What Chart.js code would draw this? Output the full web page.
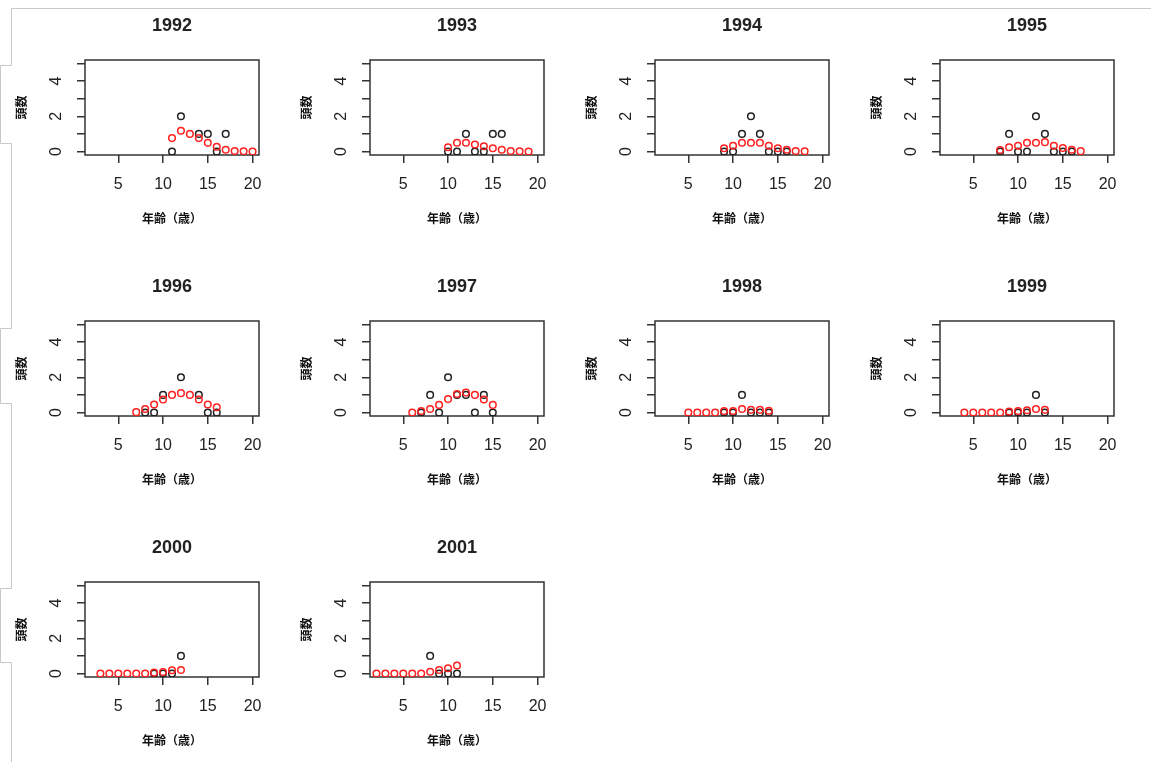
<!DOCTYPE html>
<html>
<head>
<meta charset="utf-8">
<script src="https://cdn.jsdelivr.net/npm/chart.js@4"></script>
<style>
  body { margin: 0; width: 1151px; height: 762px; overflow: hidden; background: #fff; position: relative; }
  canvas { position: absolute; }
  svg { position: absolute; left: 0; top: 0; }
</style>
</head>
<body>
<svg width="1151" height="762">
  <polyline fill="none" stroke="#c8c8c8" stroke-width="1"
    points="1151,8.5 11.5,8.5 11.5,65.5 0.5,65.5 0.5,143.5 11.5,143.5 11.5,328.5 0.5,328.5 0.5,403.5 11.5,403.5 11.5,588.5 0.5,588.5 0.5,662.5 11.5,662.5 11.5,762"/>
</svg>
<script>
const years = ['1992', '1993', '1994', '1995', '1996', '1997', '1998', '1999', '2000', '2001'];

// observed counts (black circles)
const obsAges = [
  [11, 12, 14, 15, 16, 17],
  [10, 11, 12, 13, 14, 15, 16],
  [9, 10, 11, 12, 13, 14, 15, 16],
  [8, 9, 10, 11, 12, 13, 14, 15, 16],
  [8, 9, 10, 12, 14, 15, 16],
  [7, 8, 9, 10, 11, 12, 13, 14, 15],
  [9, 10, 11, 12, 13, 14],
  [9, 10, 11, 12, 13],
  [9, 10, 11, 12],
  [8, 9, 10, 11]
];
const obsCounts = [
  [0, 2, 1, 1, 0, 1],
  [0, 0, 1, 0, 0, 1, 1],
  [0, 0, 1, 2, 1, 0, 0, 0],
  [0, 1, 0, 0, 2, 1, 0, 0, 0],
  [0, 0, 1, 2, 1, 0, 0],
  [0, 1, 0, 2, 1, 1, 0, 1, 0],
  [0, 0, 1, 0, 0, 0],
  [0, 0, 0, 1, 0],
  [0, 0, 0, 1],
  [1, 0, 0, 0]
];

// fitted values (red circles)
const fitAges = [
  [11, 12, 13, 14, 15, 16, 17, 18, 19, 20],
  [10, 11, 12, 13, 14, 15, 16, 17, 18, 19],
  [9, 10, 11, 12, 13, 14, 15, 16, 17, 18],
  [8, 9, 10, 11, 12, 13, 14, 15, 16, 17],
  [7, 8, 9, 10, 11, 12, 13, 14, 15, 16],
  [6, 7, 8, 9, 10, 11, 12, 13, 14, 15],
  [5, 6, 7, 8, 9, 10, 11, 12, 13, 14],
  [4, 5, 6, 7, 8, 9, 10, 11, 12, 13],
  [3, 4, 5, 6, 7, 8, 9, 10, 11, 12],
  [2, 3, 4, 5, 6, 7, 8, 9, 10, 11]
];
const fitCounts = [
  [0.76, 1.18, 1.0, 0.76, 0.49, 0.27, 0.1, 0.03, 0.01, 0.0],
  [0.24, 0.5, 0.5, 0.4, 0.3, 0.18, 0.1, 0.03, 0.01, 0.0],
  [0.18, 0.33, 0.5, 0.5, 0.5, 0.33, 0.18, 0.1, 0.03, 0.01],
  [0.08, 0.24, 0.33, 0.5, 0.5, 0.53, 0.33, 0.2, 0.1, 0.02],
  [0.02, 0.2, 0.45, 0.74, 1.0, 1.1, 1.0, 0.74, 0.45, 0.3],
  [0.0, 0.08, 0.2, 0.43, 0.76, 1.05, 1.13, 1.0, 0.74, 0.43],
  [0.0, 0.0, 0.0, 0.0, 0.08, 0.08, 0.2, 0.15, 0.15, 0.1],
  [0.0, 0.0, 0.0, 0.0, 0.0, 0.06, 0.08, 0.13, 0.2, 0.15],
  [0.0, 0.0, 0.0, 0.0, 0.0, 0.0, 0.05, 0.08, 0.18, 0.2],
  [0.0, 0.0, 0.0, 0.0, 0.0, 0.0, 0.1, 0.2, 0.3, 0.45]
];

const xTicks = [5, 10, 15, 20];
const yTicks = [0, 1, 2, 3, 4, 5];
const yLabels = [0, 2, 4];

const family = '"Liberation Sans", Arial, "Noto Sans CJK JP", sans-serif';
const ink = '#222';

// R style box around the plot region
const boxPlugin = {
  id: 'box',
  beforeDatasetsDraw(chart) {
    const a = chart.chartArea, ctx = chart.ctx;
    ctx.save();
    ctx.strokeStyle = '#333';
    ctx.lineWidth = 1.5;
    ctx.strokeRect(a.left, a.top, a.right - a.left, a.bottom - a.top);
    ctx.restore();
  },
  afterDraw(chart) {
    // y tick labels are parallel to the axis, like R's las=0
    const y = chart.scales.y, ctx = chart.ctx;
    ctx.save();
    ctx.font = '16px ' + family;
    ctx.fillStyle = ink;
    ctx.textAlign = 'center';
    ctx.textBaseline = 'middle';
    yLabels.forEach(v => {
      ctx.save();
      ctx.translate(y.right - 28, y.getPixelForValue(v));
      ctx.rotate(-Math.PI / 2);
      ctx.fillText(String(v), 0, 0);
      ctx.restore();
    });
    ctx.restore();
  }
};

years.forEach((yr, i) => {
  const cv = document.createElement('canvas');
  cv.width = 285;
  cv.height = 240;
  cv.style.left = (i % 4) * 285 + 'px';
  cv.style.top = Math.floor(i / 4) * 261 + 'px';
  document.body.appendChild(cv);

  new Chart(cv.getContext('2d'), {
    type: 'scatter',
    data: {
      datasets: [{
        label: '観測',
        data: obsAges[i].map((a, j) => ({ x: a, y: obsCounts[i][j] })),
        borderColor: ink,
        backgroundColor: 'rgba(0,0,0,0)',
        pointRadius: 3.3,
        borderWidth: 1.5,
        order: 2
      }, {
        label: '推定',
        data: fitAges[i].map((a, j) => ({ x: a, y: fitCounts[i][j] })),
        borderColor: '#ff2020',
        backgroundColor: 'rgba(0,0,0,0)',
        pointRadius: 3.3,
        borderWidth: 1.5,
        order: 1
      }]
    },
    options: {
      responsive: false,
      animation: false,
      layout: { padding: { top: 5, right: 26, bottom: 0, left: 0 } },
      plugins: {
        legend: { display: false },
        tooltip: { enabled: false },
        title: {
          display: true,
          text: yr,
          fullSize: false,
          color: ink,
          font: { size: 18, weight: 'bold', family: family },
          padding: { top: 10, bottom: 23.4 }
        }
      },
      scales: {
        x: {
          type: 'linear',
          min: 1.28,
          max: 20.72,
          afterBuildTicks: s => { s.ticks = xTicks.map(v => ({ value: v })); },
          afterFit: s => { s.height = 85; },
          grid: { drawOnChartArea: false, drawTicks: true, tickLength: 8, color: '#333', lineWidth: 1.5 },
          border: { display: false },
          ticks: { color: ink, font: { size: 16, family: family }, padding: 12, maxRotation: 0, autoSkip: false },
          title: { display: true, text: '年齢（歳）', color: '#111', font: { size: 12, weight: 'bold', family: family }, padding: { top: 0, bottom: 13 } }
        },
        y: {
          type: 'linear',
          min: -0.2,
          max: 5.2,
          afterBuildTicks: s => { s.ticks = yTicks.map(v => ({ value: v })); },
          afterFit: s => { s.width = 85; },
          grid: { drawOnChartArea: false, drawTicks: true, tickLength: 8, color: '#333', lineWidth: 1.5 },
          border: { display: false },
          ticks: { callback: () => '', autoSkip: false },
          title: { display: true, text: '頭数', color: '#111', font: { size: 12, weight: 'bold', family: family }, padding: { top: 15, bottom: 0 } }
        }
      }
    },
    plugins: [boxPlugin]
  });
});
</script>
</body>
</html>
